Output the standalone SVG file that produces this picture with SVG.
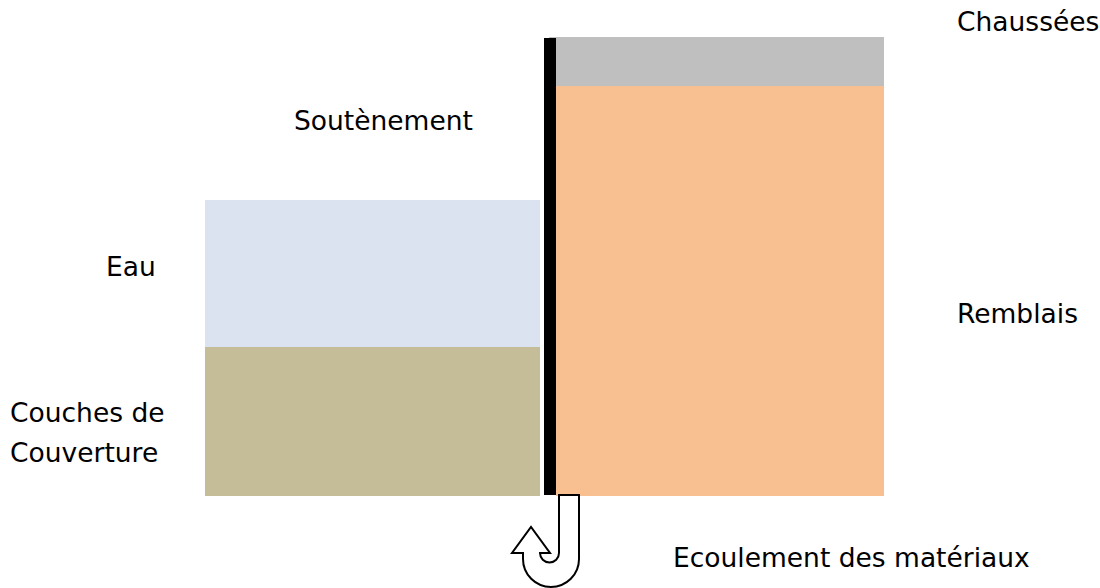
<svg xmlns="http://www.w3.org/2000/svg" width="1100" height="588" viewBox="0 0 1100 588">
<style>
text{font-family:"DejaVu Sans",Verdana,sans-serif;font-size:26.5px;fill:#000}
</style>
<rect width="1100" height="588" fill="#fff"/>
<g id="eau"><rect x="205" y="200" width="335" height="147" fill="#dae3ef"/></g>
<g id="couches"><rect x="205" y="347" width="335" height="149" fill="#c4bd97"/></g>
<g id="chaussees"><rect x="549" y="37" width="335" height="49" fill="#bfbfbf"/></g>
<g id="remblais"><rect x="556" y="86" width="328" height="410" fill="#f8bf91"/></g>
<g id="soutenement"><rect x="544" y="38" width="12" height="457" fill="#000"/></g>
<g id="ecoulement"><path d="M559,495 L579,495 L579,559 A28,28 0 0 1 523,559 L523,553 L512,553 L531,527 L550,553 L540,553 A9.5,9.5 0 0 0 559,553 Z" fill="#fff" stroke="#000" stroke-width="2" stroke-linejoin="miter"/></g>
<g id="labels">
<text x="957" y="31">Chaussées</text>
<text x="294" y="130">Soutènement</text>
<text x="106" y="276">Eau</text>
<text x="957" y="323">Remblais</text>
<text x="10" y="422">Couches de</text>
<text x="10" y="462">Couverture</text>
<text x="673" y="567">Ecoulement des matériaux</text>
</g>
</svg>
